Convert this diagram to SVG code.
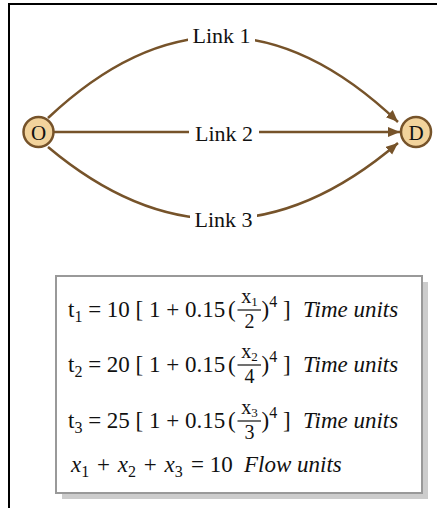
<svg xmlns="http://www.w3.org/2000/svg" width="437" height="508" viewBox="0 0 437 508">
<style>
  .t { font-family: "Liberation Serif", "Times New Roman", serif; font-size: 23px; fill: #111; }
  .lbl { font-family: "Liberation Serif", "Times New Roman", serif; font-size: 22px; fill: #111; text-anchor: middle; }
  .it { font-style: italic; }
  .sub { font-size: 16px; }
  .fr { font-family: "Liberation Serif", "Times New Roman", serif; font-size: 20px; fill: #111; text-anchor: middle; }
  .frs { font-size: 13px; }
  .link { fill: none; stroke: #76532a; stroke-width: 2.5; }
  .node { fill: #f2d39c; stroke: #76532a; stroke-width: 2.5; }
  .bar { stroke: #111; stroke-width: 1.2; }
</style>
<defs>
  <marker id="arr" markerUnits="userSpaceOnUse" markerWidth="14" markerHeight="12" refX="12" refY="5" orient="auto">
    <path d="M0,0 L12,5 L0,10 Z" fill="#76532a"/>
  </marker>
</defs>
<rect x="0" y="0" width="437" height="508" fill="#fff"/>
<path d="M9,508 V4 H437" fill="none" stroke="#000" stroke-width="2"/>

<g id="connectors">
  <path class="link" d="M48,118 Q222,-46 398,122" marker-end="url(#arr)"/>
  <path class="link" d="M54,132 L400,132" marker-end="url(#arr)"/>
  <path class="link" d="M48,147 Q222,293 398,143" marker-end="url(#arr)"/>
  <rect x="188" y="24" width="67" height="24" fill="#fff"/>
  <text class="lbl" x="221.5" y="43">Link 1</text>
  <rect x="189" y="120" width="70" height="24" fill="#fff"/>
  <text class="lbl" x="224" y="141">Link 2</text>
  <rect x="190" y="208" width="67" height="24" fill="#fff"/>
  <text class="lbl" x="223.5" y="227">Link 3</text>
</g>

<g id="node-O">
  <circle class="node" cx="38.5" cy="132" r="15"/>
  <text class="lbl" x="38.5" y="139.5" style="font-size:21px">O</text>
</g>
<g id="node-D">
  <circle class="node" cx="416" cy="132" r="15"/>
  <text class="lbl" x="416" y="139.5" style="font-size:21px">D</text>
</g>

<g id="equations">
  <rect x="62" y="282" width="366" height="217" fill="#cccccc"/>
  <rect x="56" y="276" width="366" height="217" fill="#fff" stroke="#999" stroke-width="2"/>

  <text class="t" x="68" y="317">t<tspan class="sub" dy="5">1</tspan><tspan dy="-5" xml:space="preserve"> = 10 [ 1 + 0.15</tspan></text>
  <text class="t" x="228" y="317">(</text>
  <text class="fr" x="249.5" y="303">x<tspan class="frs" dy="3">1</tspan></text>
  <line class="bar" x1="237.5" y1="310" x2="261" y2="310"/>
  <text class="fr" x="249.5" y="328">2</text>
  <text class="t" x="261.5" y="317">)<tspan class="sub" dy="-10">4</tspan><tspan dy="10" xml:space="preserve"> ]</tspan></text>
  <text class="t it" x="303" y="317">Time units</text>

  <text class="t" x="68" y="372">t<tspan class="sub" dy="5">2</tspan><tspan dy="-5" xml:space="preserve"> = 20 [ 1 + 0.15</tspan></text>
  <text class="t" x="228" y="372">(</text>
  <text class="fr" x="249.5" y="358">x<tspan class="frs" dy="3">2</tspan></text>
  <line class="bar" x1="237.5" y1="365" x2="261" y2="365"/>
  <text class="fr" x="249.5" y="383">4</text>
  <text class="t" x="261.5" y="372">)<tspan class="sub" dy="-10">4</tspan><tspan dy="10" xml:space="preserve"> ]</tspan></text>
  <text class="t it" x="303" y="372">Time units</text>

  <text class="t" x="68" y="428">t<tspan class="sub" dy="5">3</tspan><tspan dy="-5" xml:space="preserve"> = 25 [ 1 + 0.15</tspan></text>
  <text class="t" x="228" y="428">(</text>
  <text class="fr" x="249.5" y="414">x<tspan class="frs" dy="3">3</tspan></text>
  <line class="bar" x1="237.5" y1="421" x2="261" y2="421"/>
  <text class="fr" x="249.5" y="439">3</text>
  <text class="t" x="261.5" y="428">)<tspan class="sub" dy="-10">4</tspan><tspan dy="10" xml:space="preserve"> ]</tspan></text>
  <text class="t it" x="303" y="428">Time units</text>

  <text class="t" x="71" y="472" xml:space="preserve" style="word-spacing:2px"><tspan class="it">x</tspan><tspan class="sub" dy="5">1</tspan><tspan dy="-5"> + </tspan><tspan class="it">x</tspan><tspan class="sub" dy="5">2</tspan><tspan dy="-5"> + </tspan><tspan class="it">x</tspan><tspan class="sub" dy="5">3</tspan></text>
  <text class="t" x="191" y="472" xml:space="preserve">= 10</text>
  <text class="t it" x="244" y="472">Flow units</text>
</g>
</svg>
